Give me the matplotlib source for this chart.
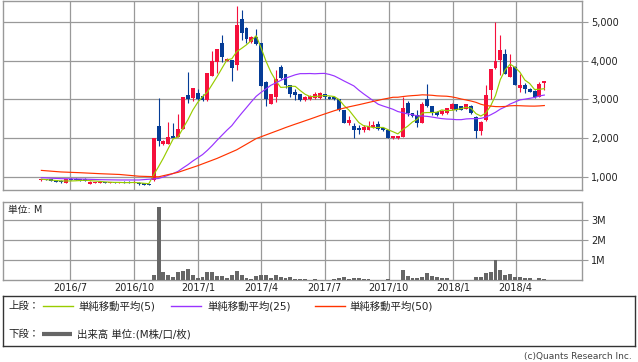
import numpy as np
import pandas as pd
import matplotlib
matplotlib.use("Agg")
import matplotlib.pyplot as plt
import matplotlib.dates as mdates

plt.rcParams['font.family'] = ['DejaVu Sans', 'Noto Sans CJK JP']

# weekly candles, first week 2016-05-21
weeks = pd.date_range('2016-05-21', periods=104, freq='7D')

opens = [910, 950, 940, 920, 900, 850, 960, 950, 950, 940, 830, 850, 850, 870, 850, 870, 850, 880, 880, 850, 850, 840, 820,
         915, 2310, 1860, 1860, 2065, 2040, 2245, 3110, 3040, 3155, 3095, 2980, 3600, 3970, 4440, 3995, 4010,
         3890, 5065, 4835, 4475, 4605, 4440, 3455, 2890, 3070, 3840, 3645, 3370, 3200, 3130, 2990, 3010,
         3030, 3025, 3140, 3060, 3050, 3000, 2720, 2400, 2310, 2270, 2210, 2220, 2290, 2360, 2270, 2210,
         2000, 2000, 2030, 2910, 2640, 2600, 2400, 3010, 2830, 2680, 2620, 2640, 2740, 2870, 2820, 2760,
         2830, 2550, 2190, 2470, 3240, 3800, 4010, 4170, 3580, 3840, 3280, 3370, 3260, 3220, 3070, 3410]
highs = [960, 960, 950, 930, 910, 945, 970, 965, 960, 975, 885, 880, 875, 880, 870, 880, 875, 890, 905, 885, 860, 850, 830,
         2000, 3030, 1960, 2415, 2380, 2610, 3060, 3700, 3300, 3255, 3150, 3670, 4245, 4300, 4670, 4060, 4020,
         5410, 5300, 4870, 4620, 4810, 4460, 3470, 3140, 3755, 3895, 3650, 3380, 3260, 3140, 3080, 3100,
         3200, 3200, 3150, 3080, 3060, 3020, 2730, 2560, 2400, 2340, 2350, 2440, 2440, 2450, 2290, 2220,
         2060, 2060, 3070, 2960, 2660, 2720, 2930, 3390, 2840, 2700, 2720, 2780, 2900, 2890, 2840, 2890,
         2850, 2560, 2440, 3370, 3790, 5000, 4650, 4300, 4180, 3850, 3650, 3430, 3290, 3240, 3450, 3470]
lows = [900, 915, 895, 865, 850, 845, 915, 915, 905, 895, 825, 845, 845, 845, 845, 845, 845, 835, 845, 845, 805, 795, 785,
        905, 1800, 1830, 1840, 1995, 2020, 2230, 2910, 2950, 2990, 2960, 2960, 3590, 3685, 3970, 3980, 3480,
        3755, 4540, 4440, 4460, 4400, 3340, 2830, 2870, 2940, 3530, 3300, 3060, 2990, 2970, 2960, 2980,
        3010, 3010, 3020, 3000, 2990, 2700, 2390, 2350, 2000, 2100, 2150, 2200, 2270, 2220, 2180, 2000,
        1990, 1990, 2020, 2560, 2540, 2290, 2380, 2810, 2600, 2580, 2600, 2620, 2720, 2710, 2720, 2740,
        2620, 2000, 2090, 2440, 3000, 3790, 3620, 3640, 3570, 3360, 3200, 3170, 3180, 3030, 3060, 3240]
closes = [945, 920, 900, 870, 860, 940, 920, 920, 910, 900, 880, 870, 870, 850, 865, 850, 870, 840, 855, 880, 810, 800, 790,
          2000, 1935, 1925, 2040, 2010, 2245, 3060, 3000, 3290, 3000, 2980, 3670, 3995, 4295, 4080, 4040, 3815,
          4910, 4715, 4545, 4605, 4415, 3340, 3015, 3130, 3515, 3540, 3370, 3135, 3110, 2980, 3060, 3080,
          3130, 3170, 3050, 3010, 3000, 2720, 2400, 2480, 2210, 2210, 2300, 2310, 2330, 2230, 2210, 2010,
          2050, 2050, 2785, 2640, 2560, 2400, 2870, 2830, 2640, 2600, 2700, 2770, 2880, 2730, 2730, 2870,
          2640, 2190, 2420, 3110, 3780, 3990, 4270, 3650, 3840, 3370, 3370, 3260, 3200, 3070, 3390, 3460]
volumes = [0.02] * 23 + [
    0.23, 3.65, 0.40, 0.23, 0.17, 0.38, 0.43, 0.53, 0.23, 0.08, 0.13, 0.38, 0.38, 0.18, 0.18, 0.10, 0.23,
    0.43, 0.23, 0.08, 0.03, 0.18, 0.23, 0.23, 0.08, 0.23, 0.13, 0.08, 0.13, 0.03, 0.06, 0.03, 0.02,
    0.03, 0.02, 0.02, 0.02, 0.03, 0.08, 0.13, 0.07, 0.10, 0.08, 0.07, 0.03, 0.02, 0.02, 0.02, 0.03,
    0.02, 0.02, 0.48, 0.18, 0.08, 0.08, 0.13, 0.33, 0.18, 0.13, 0.08, 0.08, 0.02, 0.02, 0.02, 0.02,
    0.02, 0.13, 0.13, 0.33, 0.38, 0.98, 0.48, 0.23, 0.28, 0.13, 0.13, 0.08, 0.08, 0.02, 0.08, 0.03]

# the first weeks of the 25/50 averages lean on history before the chart,
# so those are read off the picture (every 4th week); the rest is computed
ma25_head_idx = [0, 4, 8, 12, 16, 20]
ma25_head = [983, 957, 948, 931, 923, 923]
ma50_head_idx = [0, 4, 8, 12, 16, 20, 24, 28, 32, 36, 40, 44]
ma50_head = [1170, 1130, 1110, 1085, 1065, 1020, 1005, 1120, 1290, 1480, 1700, 1990]

tick_dates = pd.to_datetime(['2016-07-01', '2016-10-01', '2017-01-01', '2017-04-01',
                             '2017-07-01', '2017-10-01', '2018-01-01', '2018-04-01'])
tick_labels = ['2016/7', '2016/10', '2017/1', '2017/4', '2017/7', '2017/10', '2018/1', '2018/4']

UP = '#f5103c'
DOWN = '#053c96'
GRID = '#999999'
TXT = '#222222'
W, H = 638, 362


def box(x0, y0, x1, y1):
    return [x0 / W, 1 - y1 / H, (x1 - x0) / W, (y1 - y0) / H]


def moving_avg(n, head_idx, head_vals):
    full = pd.Series(closes).rolling(n).mean()
    start = n - 1
    idx = list(head_idx) + list(range(start, len(closes)))
    vals = list(head_vals) + list(full[start:])
    return idx, vals


fig = plt.figure(figsize=(W / 100, H / 100), dpi=100)
ax = fig.add_axes(box(3, 1, 582, 190))
axv = fig.add_axes(box(3, 202, 582, 280), sharex=ax)

x = mdates.date2num(weeks)
o = np.array(opens); c = np.array(closes)
colors = np.where(c >= o, UP, DOWN)
ax.vlines(x, lows, highs, colors=colors, linewidth=0.8, zorder=3)
body = np.maximum(np.abs(c - o), 12)
ax.bar(x, body, bottom=np.minimum(o, c), width=5.6, color=colors, linewidth=0, zorder=3)

ma5 = pd.Series(closes).rolling(5, min_periods=1).mean()
ax.plot(x, ma5, color='#99cc00', lw=0.85, zorder=4)
i25, v25 = moving_avg(25, ma25_head_idx, ma25_head)
ax.plot(x[i25], v25, color='#9933ff', lw=0.85, zorder=4)
i50, v50 = moving_avg(50, ma50_head_idx, ma50_head)
ax.plot(x[i50], v50, color='#ff3300', lw=0.85, zorder=4)

axv.bar(x, volumes, width=5.6, color='#666666', linewidth=0, zorder=3)

xl = (mdates.date2num(pd.Timestamp('2016-03-27')), mdates.date2num(pd.Timestamp('2018-07-05')))
for a in (ax, axv):
    a.set_xlim(*xl)
    a.set_xticks(mdates.date2num(tick_dates))
    a.grid(True, color=GRID, lw=0.9)
    a.set_axisbelow(True)
    a.yaxis.tick_right()
    a.tick_params(axis='y', length=4.5, width=0.8, color=GRID, labelsize=7, pad=2, labelcolor=TXT)
    a.tick_params(axis='x', length=0, labelsize=7, pad=2, labelcolor=TXT)
    for s in a.spines.values():
        s.set_color(GRID)
        s.set_linewidth(1.0)

ax.set_ylim(665, 5533)
ax.set_yticks([1000, 2000, 3000, 4000, 5000])
ax.set_yticklabels([f'{v:,}' for v in [1000, 2000, 3000, 4000, 5000]])
ax.tick_params(axis='x', labelbottom=False)

axv.set_ylim(0, 3.9)
axv.set_yticks([1, 2, 3])
axv.set_yticklabels(['1M', '2M', '3M'])
axv.set_xticklabels(tick_labels)
axv.text(0.008, 0.9, '単位: M', transform=axv.transAxes, fontsize=7, va='center', ha='left', color=TXT)

# legend box
leg = fig.add_axes(box(3, 296, 635, 346))
leg.set_xlim(0, 632)
leg.set_ylim(50, 0)
leg.set_xticks([]); leg.set_yticks([])
for s in leg.spines.values():
    s.set_color('#333333')
    s.set_linewidth(1.0)
fs = 7.5
leg.text(5, 10, '上段：', fontsize=fs, va='center', color=TXT)
leg.plot([40, 70], [10, 10], color='#99cc00', lw=1.0)
leg.text(75, 10, '単純移動平均(5)', fontsize=fs, va='center', color=TXT)
leg.plot([168, 198], [10, 10], color='#9933ff', lw=1.0)
leg.text(204, 10, '単純移動平均(25)', fontsize=fs, va='center', color=TXT)
leg.plot([312, 342], [10, 10], color='#ff3300', lw=1.0)
leg.text(346, 10, '単純移動平均(50)', fontsize=fs, va='center', color=TXT)
leg.text(5, 38, '下段：', fontsize=fs, va='center', color=TXT)
leg.plot([39, 69], [38, 38], color='#666666', lw=3.0, solid_capstyle='butt')
leg.text(74, 38, '出来高 単位:(M株/口/枚)', fontsize=fs, va='center', color=TXT)

fig.text(632 / W, 1 - 356 / H, '(c)Quants Research Inc.', ha='right', va='center', fontsize=6.5, color='#444444')

fig.savefig('out.png', dpi=100)
